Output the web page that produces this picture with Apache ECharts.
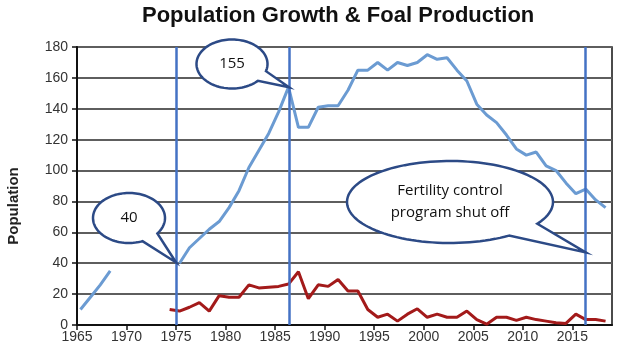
<!DOCTYPE html>
<html>
<head>
<meta charset="utf-8">
<script src="https://cdn.jsdelivr.net/npm/echarts@6/dist/echarts.min.js"></script>
<style>
  html, body { margin: 0; padding: 0; background: #fff; }
  #chart { width: 640px; height: 354px; }
</style>
</head>
<body>
<div id="chart"></div>
<script>
// population (blue) 1965-2018, gaps where no count
const popYears = [1965, 1966, 1967, 1968, 1969, 1970, 1971, 1972, 1973, 1974,
  1975, 1976, 1977, 1978, 1979, 1980, 1981, 1982, 1983, 1984, 1985, 1986,
  1987, 1988, 1989, 1990, 1991, 1992, 1993, 1994, 1995, 1996, 1997, 1998, 1999,
  2000, 2001, 2002, 2003, 2004, 2005, 2006, 2007, 2008, 2009, 2010, 2011, 2012,
  2013, 2014, 2015, 2016, 2017, 2018]
const popVals = [10, 18, 26, 35, null, null, null, null, null, null,
  40, 50, 56, 62, 67, 76, 87, 102, 113, 124, 138, 154,
  128, 128, 141, 142, 142, 152, 165, 165, 170, 165, 170, 168, 170,
  175, 172, 173, 165, 158, 143, 136, 131, 123, 114, 110, 112, 103,
  100, 92, 85, 88, 81, 76]

// foals (red) 1974-2018
const foalYears = [1974, 1975, 1976, 1977, 1978, 1979, 1980, 1981, 1982, 1983,
  1984, 1985, 1986, 1987, 1988, 1989, 1990, 1991, 1992, 1993,
  1994, 1995, 1996, 1997, 1998, 1999, 2000, 2001, 2002, 2003,
  2004, 2005, 2006, 2007, 2008, 2009, 2010, 2011, 2012, 2013,
  2014, 2015, 2016, 2017, 2018]
const foalVals = [10, 9, 11.5, 14.5, 9, 19, 18, 18, 26, 24,
  24.5, 25, 26.5, 34.5, 17, 26, 25, 29.5, 22, 22,
  10, 5, 7, 2.5, 7, 10.5, 5, 7, 5, 5,
  9, 3.5, 0.5, 5, 5, 3, 5, 3.5, 2.5, 1.5,
  1, 7, 3.5, 3.5, 2.5]

const xTicks = [1965, 1970, 1975, 1980, 1985, 1990, 1995, 2000, 2005, 2010, 2015]
const markYears = [1975, 1986.4, 2016.35]

// counts are plotted a little past the year tick (mid-year)
const XOFF = 0.35

const callouts = [
  { text: '40', cx: 129, cy: 218, rx: 36, ry: 25, a1: 38, a2: 68, tip: [1975, 40.5] },
  { text: '155', cx: 232, cy: 64, rx: 35.5, ry: 24.5, a1: 17, a2: 43, tip: [1986.4, 154] },
  { text: 'Fertility control\nprogram shut off', cx: 450, cy: 202, rx: 103, ry: 41, a1: 32, a2: 55, tip: [2016.35, 47] }
]

const FONT = '"Liberation Sans", Arial, sans-serif'

function toPairs(years, vals) {
  return years.map((y, i) => [y + XOFF, vals[i] == null ? '-' : vals[i]])
}

const chart = echarts.init(document.getElementById('chart'))

chart.setOption({
  animation: false,
  title: {
    text: 'Population Growth & Foal Production',
    left: 137, top: 0,
    textStyle: { fontFamily: FONT, fontSize: 22, fontWeight: 'bold', color: '#111' }
  },
  grid: {
    left: 77, right: 28, top: 47, bottom: 29,
    show: true, borderColor: '#111', borderWidth: 1.5
  },
  xAxis: {
    type: 'value', min: 1965, max: 2019,
    axisLine: { lineStyle: { color: '#111', width: 2 } },
    axisTick: { show: true, customValues: xTicks, length: 5, lineStyle: { color: '#111', width: 1.5 } },
    axisLabel: {
      customValues: xTicks, formatter: v => String(v),
      color: '#333', fontFamily: FONT, fontSize: 14, margin: 5
    },
    splitLine: { show: false }
  },
  yAxis: {
    type: 'value', min: 0, max: 180, interval: 20,
    axisLine: { show: true, lineStyle: { color: '#111', width: 2 } },
    axisTick: { show: true, length: 5, lineStyle: { color: '#111', width: 1.5 } },
    axisLabel: { color: '#333', fontFamily: FONT, fontSize: 14, margin: 9 },
    splitLine: { lineStyle: { color: '#5e5e5e', width: 1.8 } }
  },
  series: [
    {
      name: 'Population', type: 'line', data: toPairs(popYears, popVals),
      symbol: 'none', connectNulls: false,
      lineStyle: { color: '#6b9bd2', width: 3 }
    },
    {
      name: 'Foals', type: 'line', data: toPairs(foalYears, foalVals),
      symbol: 'none',
      lineStyle: { color: '#a31a1a', width: 3 },
      markLine: {
        silent: true, symbol: 'none',
        label: { show: false },
        lineStyle: { color: '#4472c4', width: 2.5, type: 'solid' },
        data: markYears.map(x => ({ xAxis: x }))
      }
    }
  ]
})

// speech bubbles: ellipse outline with a gap, closed by a tail to the data point
function bubble(c) {
  const tip = chart.convertToPixel({ gridIndex: 0 }, c.tip)
  const pts = []
  for (let a = c.a2; a <= c.a1 + 360; a += 3) {
    const r = a * Math.PI / 180
    pts.push([c.cx + c.rx * Math.cos(r), c.cy + c.ry * Math.sin(r)])
  }
  const r1 = (c.a1 + 360) * Math.PI / 180
  pts.push([c.cx + c.rx * Math.cos(r1), c.cy + c.ry * Math.sin(r1)])
  pts.push(tip)
  return [
    {
      type: 'polygon', z: 100, silent: true,
      shape: { points: pts },
      style: { fill: '#fff', stroke: '#2c4a86', lineWidth: 2.5, lineJoin: 'miter' }
    },
    {
      type: 'text', z: 101, silent: true,
      x: c.cx, y: c.cy,
      style: {
        text: c.text, align: 'center', verticalAlign: 'middle',
        font: '15px "Open Sans", sans-serif', fill: '#111', lineHeight: 22
      }
    }
  ]
}

const elements = []
callouts.forEach(c => elements.push(...bubble(c)))
elements.push({
  type: 'text', z: 101, silent: true,
  x: 14, y: 206, rotation: Math.PI / 2,
  style: {
    text: 'Population', align: 'center', verticalAlign: 'middle',
    font: 'bold 15px ' + FONT, fill: '#222'
  }
})
chart.setOption({ graphic: { elements } })
</script>
</body>
</html>
